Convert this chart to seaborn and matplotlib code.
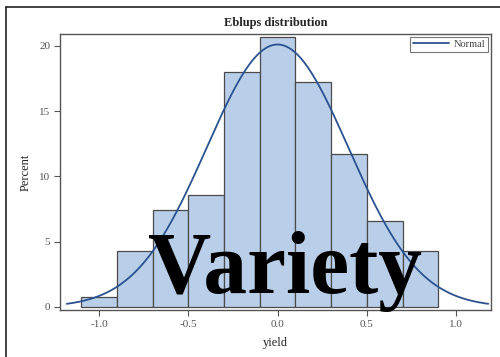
import numpy as np
import pandas as pd
import matplotlib
matplotlib.use("Agg")
import matplotlib.pyplot as plt
from matplotlib.lines import Line2D
import seaborn as sns

# ---- data ----
bin_edges = [-1.1, -0.9, -0.7, -0.5, -0.3, -0.1, 0.1, 0.3, 0.5, 0.7, 0.9]
bin_centers = [-1.0, -0.8, -0.6, -0.4, -0.2, 0.0, 0.2, 0.4, 0.6, 0.8]
percent = [0.8, 4.3, 7.4, 8.6, 18.0, 20.7, 17.2, 11.7, 6.6, 4.3]
normal_mean = 0.0
normal_sd = 0.397
x_ticks = [-1.0, -0.5, 0.0, 0.5, 1.0]
x_tick_labels = ["-1.0", "-0.5", "0.0", "0.5", "1.0"]
y_ticks = [0, 5, 10, 15, 20]

sns.set_style("white")
plt.rcParams['font.family'] = ['Liberation Serif', 'DejaVu Serif']

fig = plt.figure(figsize=(5.0, 3.57), dpi=100)
ax = fig.add_axes([60/500, 1-310/357, (491-60)/500, (310-34)/357])

df = pd.DataFrame({"yield": bin_centers, "pct": percent})
sns.histplot(data=df, x="yield", weights="pct", bins=bin_edges, stat="count",
             color="#B9CFE9", edgecolor="#4a4a4a", linewidth=0.9, alpha=1.0, ax=ax)

xs = np.linspace(-1.18, 1.18, 300)
binw = bin_edges[1] - bin_edges[0]
ys = 100 * binw / (normal_sd * np.sqrt(2 * np.pi)) * np.exp(-0.5 * ((xs - normal_mean) / normal_sd) ** 2)
sns.lineplot(x=xs, y=ys, color="#2B5290", linewidth=1.3, ax=ax, label="Normal")

ax.set_xlim(-1.218, 1.195)
ax.set_ylim(-0.23, 20.9)
ax.set_xticks(x_ticks)
ax.set_xticklabels(x_tick_labels)
ax.set_yticks(y_ticks)
ax.tick_params(axis="both", which="both", direction="out", length=4, width=0.8,
               colors="#555555", labelsize=8, labelcolor="#555555", pad=3,
               bottom=True, left=True)
for s in ax.spines.values():
    s.set_color("#555555")
    s.set_linewidth(1.0)
ax.set_xlabel("yield", fontsize=9, color="#222222", labelpad=6)
ax.set_ylabel("Percent", fontsize=9, color="#222222", labelpad=3)
ax.yaxis.set_label_coords(-(60-32)/431, 0.5)
ax.set_title("Eblups distribution", fontsize=9, fontweight="bold", pad=6)

leg = ax.legend(handles=[Line2D([0], [0], color="#2B5290", lw=1.3)], labels=["Normal"],
                loc="upper right", fontsize=7.5, frameon=True, fancybox=False,
                handlelength=3.5, handletextpad=0.4, borderpad=0.25,
                borderaxespad=0.3, labelcolor="#444444")
leg.get_frame().set_edgecolor("#555555")
leg.get_frame().set_linewidth(0.8)

# outer frame lines
fig.add_artist(Line2D([6/500, 6/500], [0, 1-7/357], transform=fig.transFigure, color="#222222", lw=1.2))
fig.add_artist(Line2D([6/500, 1], [1-7/357, 1-7/357], transform=fig.transFigure, color="#222222", lw=1.2))

# watermark
fig.text(285/500, 1-293/357, "Variety", fontsize=63, fontweight="bold",
         family=["Liberation Serif", "DejaVu Serif"], color="black",
         ha="center", va="baseline")

fig.savefig("out.png", dpi=100)
